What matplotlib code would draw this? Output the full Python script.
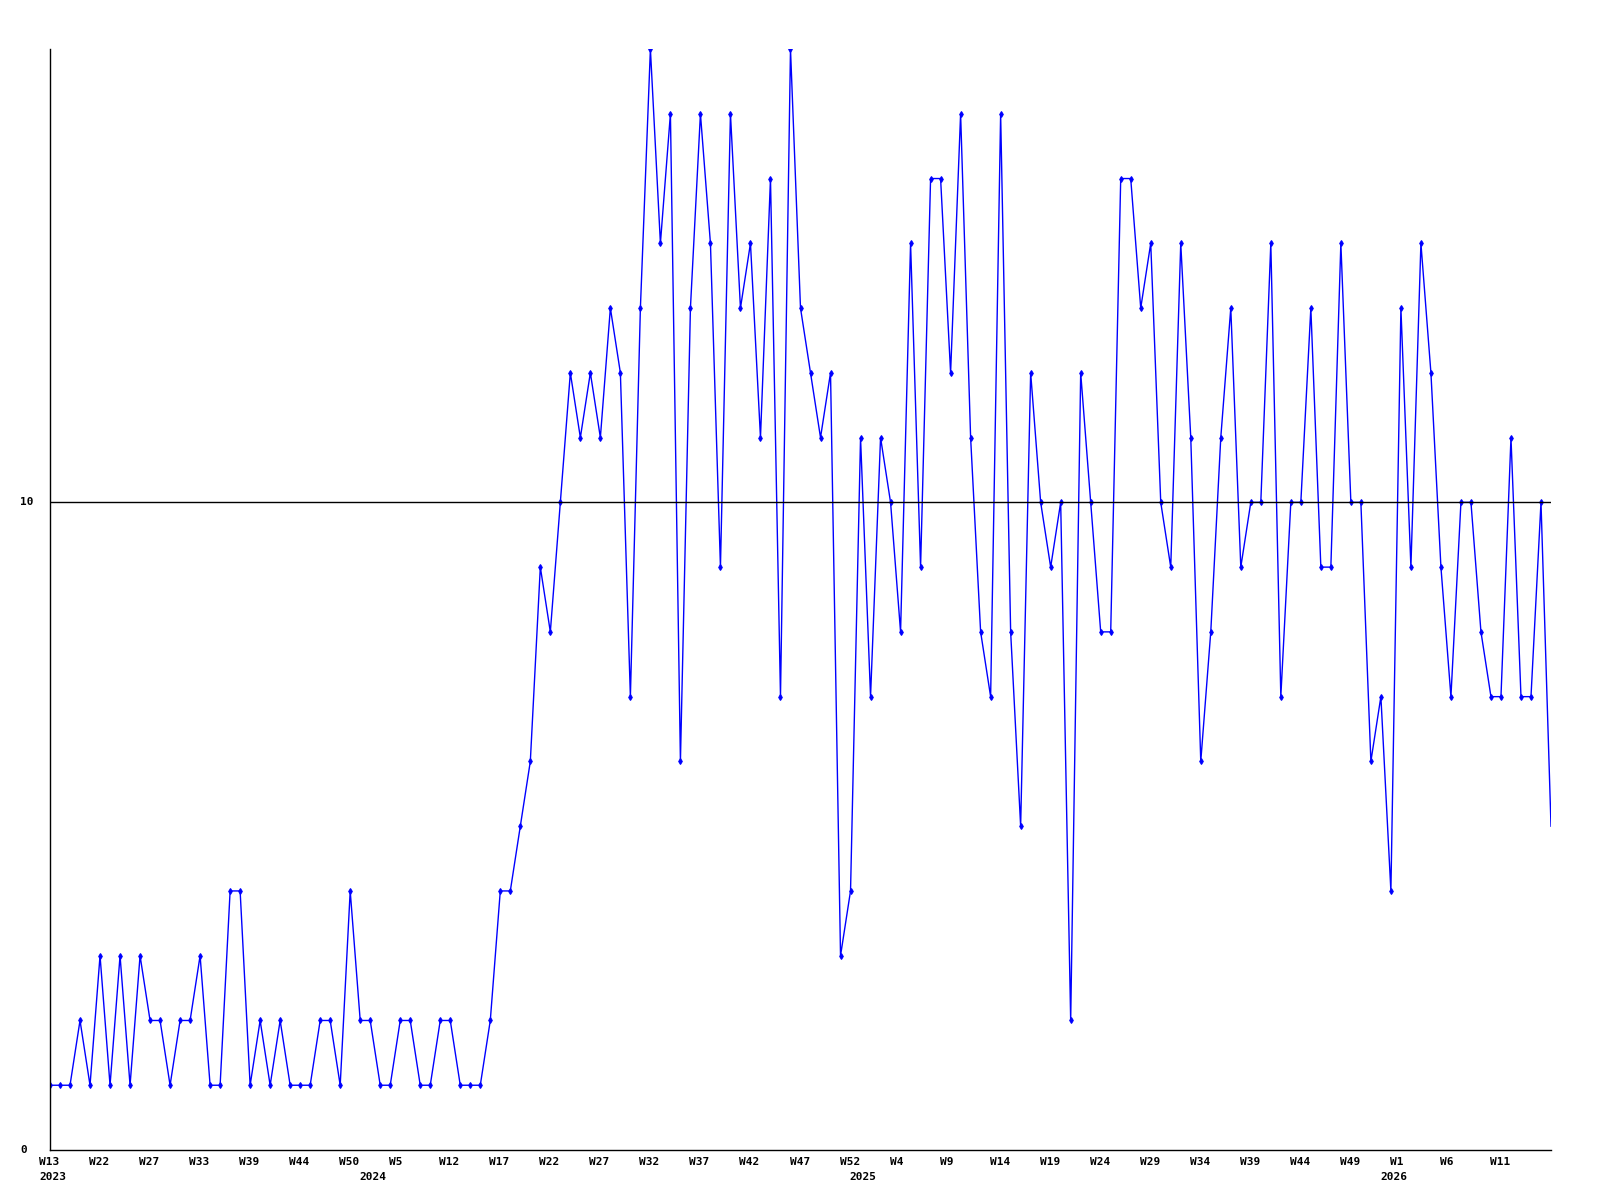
import matplotlib
matplotlib.use("Agg")
import matplotlib.pyplot as plt
import matplotlib.transforms as mtransforms

# weekly values, 2023 W13 onwards (last point is the open week)
values = [1, 1, 1, 2, 1, 3, 1, 3, 1, 3,
          2, 2, 1, 2, 2, 3, 1, 1, 4, 4,
          1, 2, 1, 2, 1, 1, 1, 2, 2, 1,
          4, 2, 2, 1, 1, 2, 2, 1, 1, 2,
          2, 1, 1, 1, 2, 4, 4, 5, 6, 9,
          8, 10, 12, 11, 12, 11, 13, 12, 7, 13,
          17, 14, 16, 6, 13, 16, 14, 9, 16, 13,
          14, 11, 15, 7, 17, 13, 12, 11, 12, 3,
          4, 11, 7, 11, 10, 8, 14, 9, 15, 15,
          12, 16, 11, 8, 7, 16, 8, 5, 12, 10,
          9, 10, 2, 12, 10, 8, 8, 15, 15, 13,
          14, 10, 9, 14, 11, 6, 8, 11, 13, 9,
          10, 10, 14, 7, 10, 10, 13, 9, 9, 14,
          10, 10, 6, 7, 4, 13, 9, 14, 12, 9,
          7, 10, 10, 8, 7, 7, 11, 7, 7, 10,
          5]

tick_pos = [0, 5, 10, 15, 20, 25, 30, 35, 40, 45, 50, 55, 60, 65, 70, 75,
            80, 85, 90, 95, 100, 105, 110, 115, 120, 125, 130, 135, 140, 145]
tick_labels = ['W13', 'W22', 'W27', 'W33', 'W39', 'W44', 'W50', 'W5', 'W12', 'W17',
               'W22', 'W27', 'W32', 'W37', 'W42', 'W47', 'W52', 'W4', 'W9', 'W14',
               'W19', 'W24', 'W29', 'W34', 'W39', 'W44', 'W49', 'W1', 'W6', 'W11']
year_pos = [0, 32, 81, 134]
year_labels = ['2023', '2024', '2025', '2026']
ref_line = 10

font = dict(family='DejaVu Sans Mono', fontsize=8, fontweight='bold')

fig = plt.figure(figsize=(16, 12), dpi=100)
ax = fig.add_axes([50 / 1600, 50 / 1200, 1501 / 1600, 1101 / 1200])

x = list(range(len(values)))
ax.plot(x, values, color='#0000ff', lw=1, marker='d', ms=3, mew=0.8,
        markevery=list(range(len(values) - 1)))
ax.axhline(ref_line, color='black', lw=1, zorder=3)

ax.set_xlim(0, len(values) - 1)
ax.set_ylim(0, 17)
for s in ['top', 'right']:
    ax.spines[s].set_visible(False)
for s in ['left', 'bottom']:
    ax.spines[s].set_linewidth(1)
ax.tick_params(length=0)
ax.set_xticks([])
ax.set_yticks([])

# x labels: left edge sits ~11 px before the week
shift = mtransforms.ScaledTranslation(-11 / 100, 0, fig.dpi_scale_trans)
xtr = mtransforms.blended_transform_factory(ax.transData, fig.transFigure) + shift
for p, lab in zip(tick_pos, tick_labels):
    ax.text(p, 1 - 1162 / 1200, lab, transform=xtr, ha='left', va='center', **font)
for p, lab in zip(year_pos, year_labels):
    ax.text(p, 1 - 1177 / 1200, lab, transform=xtr, ha='left', va='center', **font)

ytr = mtransforms.blended_transform_factory(fig.transFigure, ax.transData)
for v in [0, ref_line]:
    ax.text(20 / 1600, v, str(v), transform=ytr, ha='left', va='center', **font)

fig.savefig('out.png', dpi=100)
